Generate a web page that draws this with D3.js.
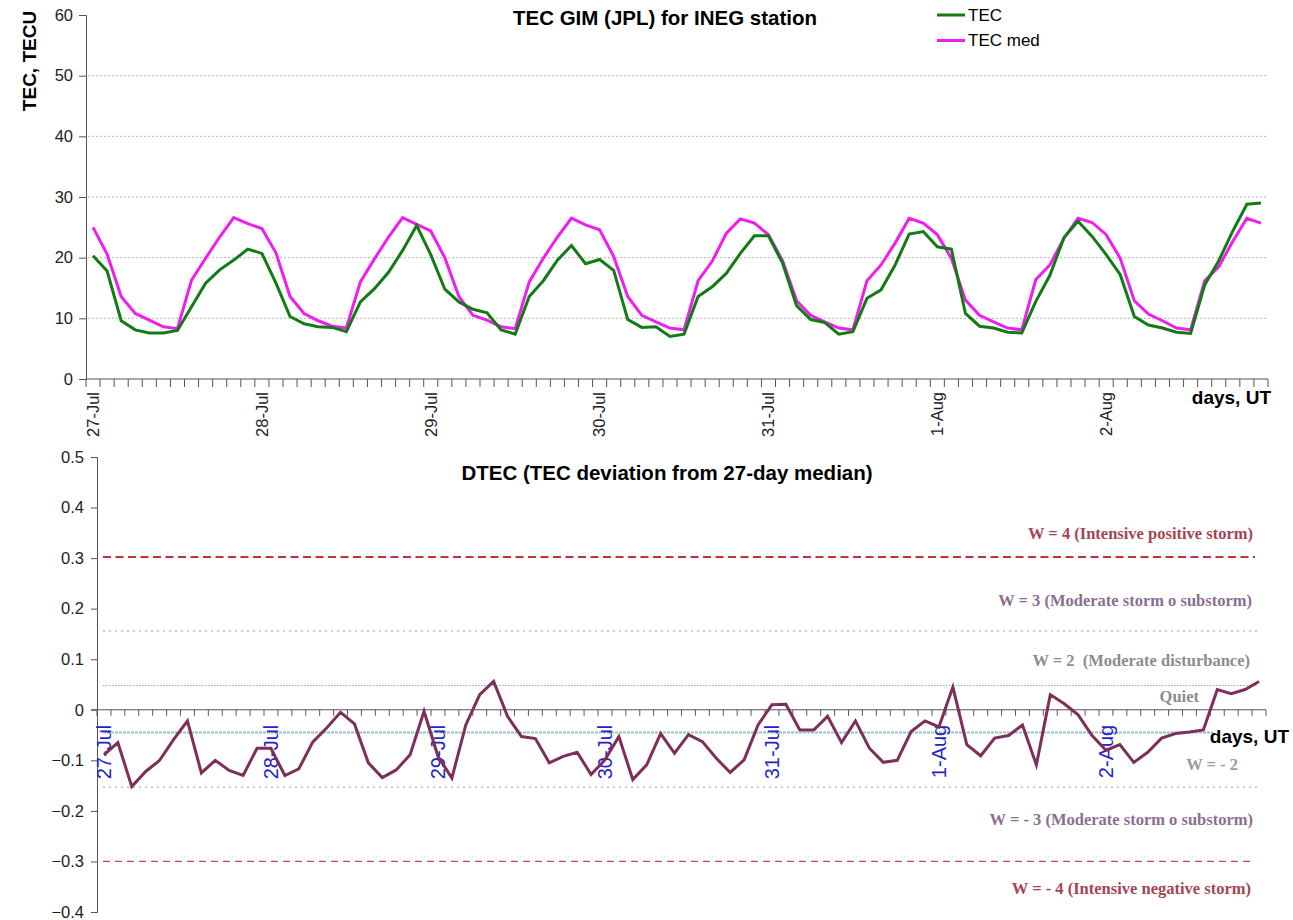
<!DOCTYPE html>
<html>
<head>
<meta charset="utf-8">
<script src="https://cdn.jsdelivr.net/npm/d3@7"></script>
<style>
  body { margin: 0; background: #fff; }
  svg { display: block; }
  text { white-space: pre; }
</style>
</head>
<body>
<div id="chart"></div>
<script>
// day labels (one per 12 two-hour samples)
var days = ["27-Jul", "28-Jul", "29-Jul", "30-Jul", "31-Jul", "1-Aug", "2-Aug"];

// TEC, TECU (2-hour samples)
var tec = [
  20.3, 17.8, 9.6, 8.1, 7.6, 7.6, 8.0, 11.9, 15.8, 18.0, 19.6, 21.4,
  20.7, 15.8, 10.3, 9.1, 8.6, 8.5, 7.8, 12.7, 14.9, 17.6, 21.2, 25.3,
  20.5, 14.8, 12.7, 11.5, 10.9, 8.1, 7.4, 13.6, 16.2, 19.6, 22.0, 19.0,
  19.7, 17.9, 9.8, 8.5, 8.6, 7.0, 7.4, 13.6, 15.2, 17.4, 20.7, 23.6,
  23.6, 19.1, 12.1, 9.8, 9.3, 7.4, 7.8, 13.3, 14.7, 18.8, 23.9, 24.3,
  21.8, 21.4, 10.8, 8.7, 8.4, 7.7, 7.6, 12.8, 17.1, 23.3, 26.0, 23.5,
  20.5, 17.2, 10.3, 8.9, 8.4, 7.7, 7.5, 15.5, 19.5, 24.4, 28.8, 29.0
];

// 27-day median TEC
var tecMed = [
  25.0, 20.6, 13.6, 10.8, 9.7, 8.6, 8.3, 16.3, 19.9, 23.4, 26.6, 25.6,
  24.8, 20.8, 13.6, 10.8, 9.6, 8.7, 8.4, 16.0, 19.8, 23.4, 26.6, 25.5,
  24.4, 20.0, 13.6, 10.5, 9.7, 8.6, 8.3, 16.0, 19.9, 23.4, 26.5, 25.4,
  24.6, 20.2, 13.6, 10.5, 9.4, 8.4, 8.1, 16.2, 19.4, 24.0, 26.4, 25.7,
  23.8, 19.5, 12.9, 10.5, 9.4, 8.4, 8.1, 16.2, 18.8, 22.4, 26.5, 25.7,
  23.8, 19.9, 13.0, 10.5, 9.4, 8.4, 8.1, 16.4, 18.8, 23.2, 26.5, 25.8,
  23.8, 19.9, 12.9, 10.7, 9.6, 8.4, 8.1, 16.2, 18.5, 22.7, 26.5, 25.7
];

// DTEC (relative deviation from median)
var dtec = [
  -0.089, -0.065, -0.152, -0.122, -0.100, -0.059, -0.022, -0.125, -0.100, -0.120, -0.130, -0.076,
  -0.076, -0.130, -0.117, -0.064, -0.036, -0.005, -0.028, -0.105, -0.134, -0.119, -0.089, -0.003,
  -0.092, -0.135, -0.030, 0.030, 0.056, -0.013, -0.053, -0.057, -0.105, -0.092, -0.084, -0.128,
  -0.099, -0.053, -0.138, -0.109, -0.047, -0.086, -0.049, -0.063, -0.096, -0.124, -0.099, -0.030,
  0.010, 0.011, -0.040, -0.040, -0.013, -0.065, -0.022, -0.076, -0.104, -0.100, -0.043, -0.022,
  -0.034, 0.045, -0.069, -0.091, -0.056, -0.051, -0.030, -0.109, 0.030, 0.012, -0.010, -0.051,
  -0.080, -0.069, -0.104, -0.084, -0.056, -0.047, -0.044, -0.040, 0.040, 0.032, 0.040, 0.056
];

// threshold lines and W-index labels
var levels = [0.302, 0.156, 0.048, -0.045, -0.153, -0.300];
var levelStyles = ["red", "grey", "teal", "tealSolid", "grey", "redThin"];
var wLabels = [
  "W = 4 (Intensive positive storm)",
  "W = 3 (Moderate storm o substorm)",
  "W = 2  (Moderate disturbance)",
  "Quiet",
  "W = - 2",
  "W = - 3 (Moderate storm o substorm)",
  "W = - 4 (Intensive negative storm)"
];
var wLabelY = [0.35, 0.217, 0.099, 0.026, -0.107, -0.217, -0.352];

var yTicksTop = [0, 10, 20, 30, 40, 50, 60];
var yTicksBottom = [-0.4, -0.3, -0.2, -0.1, 0, 0.1, 0.2, 0.3, 0.4, 0.5];

var W = 1293, H = 920;
var sans = "'Liberation Sans', Arial, sans-serif";
var serif = "'Liberation Serif', 'Times New Roman', serif";

var svg = d3.select("#chart").append("svg")
  .attr("width", W)
  .attr("height", H);

var idx = d3.range(tec.length);

// ---------- top chart ----------
var xTop = d3.scaleBand().domain(idx).range([86, 1268]);
var yTop = d3.scaleLinear().domain([0, 60]).range([379, 15]);
var cx = function (s, i) { return s(i) + s.bandwidth() / 2; };

var gTop = svg.append("g");

// dotted grid
gTop.append("g").selectAll("line")
  .data(yTicksTop.filter(d => d > 0 && d < 60))
  .enter().append("line")
  .attr("x1", 88).attr("x2", 1268)
  .attr("y1", d => yTop(d)).attr("y2", d => yTop(d))
  .attr("stroke", "#b4b4b4")
  .attr("stroke-dasharray", "2,2");

// y axis
var yAxisTop = gTop.append("g")
  .attr("transform", "translate(86,0)")
  .call(d3.axisLeft(yTop).tickValues(yTicksTop).tickSize(7).tickPadding(6));
yAxisTop.select(".domain").attr("stroke", "#555");
yAxisTop.selectAll(".tick line").attr("stroke", "#555");
yAxisTop.selectAll("text").attr("font-family", sans).attr("font-size", 16.5).attr("fill", "#222");

// x axis: tick marks at category boundaries
gTop.append("line")
  .attr("x1", 86).attr("x2", 1268)
  .attr("y1", 379).attr("y2", 379)
  .attr("stroke", "#555");
gTop.append("g").selectAll("line")
  .data(d3.range(tec.length + 1))
  .enter().append("line")
  .attr("x1", i => 86 + i * xTop.bandwidth())
  .attr("x2", i => 86 + i * xTop.bandwidth())
  .attr("y1", 379).attr("y2", 387)
  .attr("stroke", "#555");

gTop.append("g").selectAll("text")
  .data(days)
  .enter().append("text")
  .attr("transform", (d, k) => "translate(" + cx(xTop, k * 12) + ",392) rotate(-90)")
  .attr("dy", "0.35em")
  .attr("text-anchor", "end")
  .attr("font-family", sans)
  .attr("font-size", 16.5)
  .attr("fill", "#222")
  .text(d => d);

var lineTop = function (vals) {
  return d3.line()
    .x((d, i) => cx(xTop, i))
    .y(d => yTop(d))(vals);
};

gTop.append("path")
  .attr("d", lineTop(tecMed))
  .attr("fill", "none")
  .attr("stroke", "#ee1fee")
  .attr("stroke-width", 3);

gTop.append("path")
  .attr("d", lineTop(tec))
  .attr("fill", "none")
  .attr("stroke", "#147a14")
  .attr("stroke-width", 3);

// titles
gTop.append("text")
  .attr("x", 665).attr("y", 25)
  .attr("text-anchor", "middle")
  .attr("font-family", sans).attr("font-weight", "bold").attr("font-size", 20.5)
  .text("TEC GIM (JPL) for INEG station");

gTop.append("text")
  .attr("transform", "translate(36,61) rotate(-90)")
  .attr("text-anchor", "middle")
  .attr("font-family", sans).attr("font-weight", "bold").attr("font-size", 19)
  .text("TEC, TECU");

gTop.append("text")
  .attr("x", 1271).attr("y", 404)
  .attr("text-anchor", "end")
  .attr("font-family", sans).attr("font-weight", "bold").attr("font-size", 19)
  .text("days, UT");

// legend
var legend = gTop.append("g").selectAll("g")
  .data([["TEC", "#147a14"], ["TEC med", "#ee1fee"]])
  .enter().append("g")
  .attr("transform", (d, k) => "translate(937," + (15 + k * 25.5) + ")");
legend.append("line")
  .attr("x1", 0).attr("x2", 28)
  .attr("stroke", d => d[1])
  .attr("stroke-width", 3);
legend.append("text")
  .attr("x", 31).attr("dy", "0.35em")
  .attr("font-family", sans).attr("font-size", 17)
  .text(d => d[0]);

// ---------- bottom chart ----------
var xBot = d3.scaleBand().domain(idx).range([97, 1266]);
var yBot = d3.scaleLinear().domain([-0.4, 0.5]).range([912, 457]);

var gBot = svg.append("g");

// threshold lines
var styleMap = {
  red: { stroke: "#c4303c", width: 2, dash: "8,4.5", x2: 1255 },
  redThin: { stroke: "#cc4450", width: 1.3, dash: "7,5", x2: 1255 },
  grey: { stroke: "#bcbcbc", width: 1.5, dash: "2,4", x2: 1258 },
  teal: { stroke: "#82b2b6", width: 1, dash: "1.5,1.5", x2: 1258 },
  tealSolid: { stroke: "#96c2c2", width: 2, dash: "3,1", x2: 1213 }
};
gBot.append("g").selectAll("line")
  .data(levels)
  .enter().append("line")
  .attr("x1", 103)
  .attr("x2", (d, k) => styleMap[levelStyles[k]].x2)
  .attr("y1", d => yBot(d)).attr("y2", d => yBot(d))
  .attr("stroke", (d, k) => styleMap[levelStyles[k]].stroke)
  .attr("stroke-width", (d, k) => styleMap[levelStyles[k]].width)
  .attr("stroke-dasharray", (d, k) => styleMap[levelStyles[k]].dash);

// W labels
var labelColors = ["#a54553", "#8a7090", "#8c8c8c", "#8c8c8c", "#9a9a9a", "#8a7090", "#a54553"];
var labelRight = [1253, 1252, 1250, 1199, 1238, 1253, 1251];
gBot.append("g").selectAll("text")
  .data(wLabels)
  .enter().append("text")
  .attr("x", (d, k) => labelRight[k])
  .attr("y", (d, k) => yBot(wLabelY[k]))
  .attr("dy", "0.35em")
  .attr("text-anchor", "end")
  .attr("font-family", serif).attr("font-weight", "bold").attr("font-size", 16.5)
  .attr("fill", (d, k) => labelColors[k])
  .text(d => d);

// y axis
var yAxisBot = gBot.append("g")
  .attr("transform", "translate(97,0)")
  .call(d3.axisLeft(yBot).tickValues(yTicksBottom).tickSize(6).tickPadding(7)
    .tickFormat(d => d === 0 ? "0" : d3.format(".1f")(d)));
yAxisBot.select(".domain").attr("stroke", "#555");
yAxisBot.selectAll(".tick line").attr("stroke", "#555");
yAxisBot.selectAll("text").attr("font-family", sans).attr("font-size", 16.5).attr("fill", "#222");

// x axis at zero
gBot.append("line")
  .attr("x1", 91).attr("x2", 1266)
  .attr("y1", yBot(0)).attr("y2", yBot(0))
  .attr("stroke", "#555");
gBot.append("g").selectAll("line")
  .data(d3.range(dtec.length + 1))
  .enter().append("line")
  .attr("x1", i => 97 + i * xBot.bandwidth())
  .attr("x2", i => 97 + i * xBot.bandwidth())
  .attr("y1", yBot(0)).attr("y2", yBot(0) + 6)
  .attr("stroke", "#555");

gBot.append("g").selectAll("text")
  .data(days)
  .enter().append("text")
  .attr("transform", (d, k) => "translate(" + cx(xBot, k * 12) + "," + (yBot(0) + 15) + ") rotate(-90)")
  .attr("dy", "0.35em")
  .attr("text-anchor", "end")
  .attr("font-family", sans)
  .attr("font-size", 20)
  .attr("fill", "#2424c8")
  .text(d => d);

gBot.append("path")
  .attr("d", d3.line().x((d, i) => cx(xBot, i)).y(d => yBot(d))(dtec))
  .attr("fill", "none")
  .attr("stroke", "#7e2f58")
  .attr("stroke-width", 3);

gBot.append("text")
  .attr("x", 667).attr("y", 480)
  .attr("text-anchor", "middle")
  .attr("font-family", sans).attr("font-weight", "bold").attr("font-size", 20.5)
  .text("DTEC (TEC deviation from 27-day median)");

gBot.append("text")
  .attr("x", 1289).attr("y", 743)
  .attr("text-anchor", "end")
  .attr("font-family", sans).attr("font-weight", "bold").attr("font-size", 19)
  .text("days, UT");
</script>
</body>
</html>
